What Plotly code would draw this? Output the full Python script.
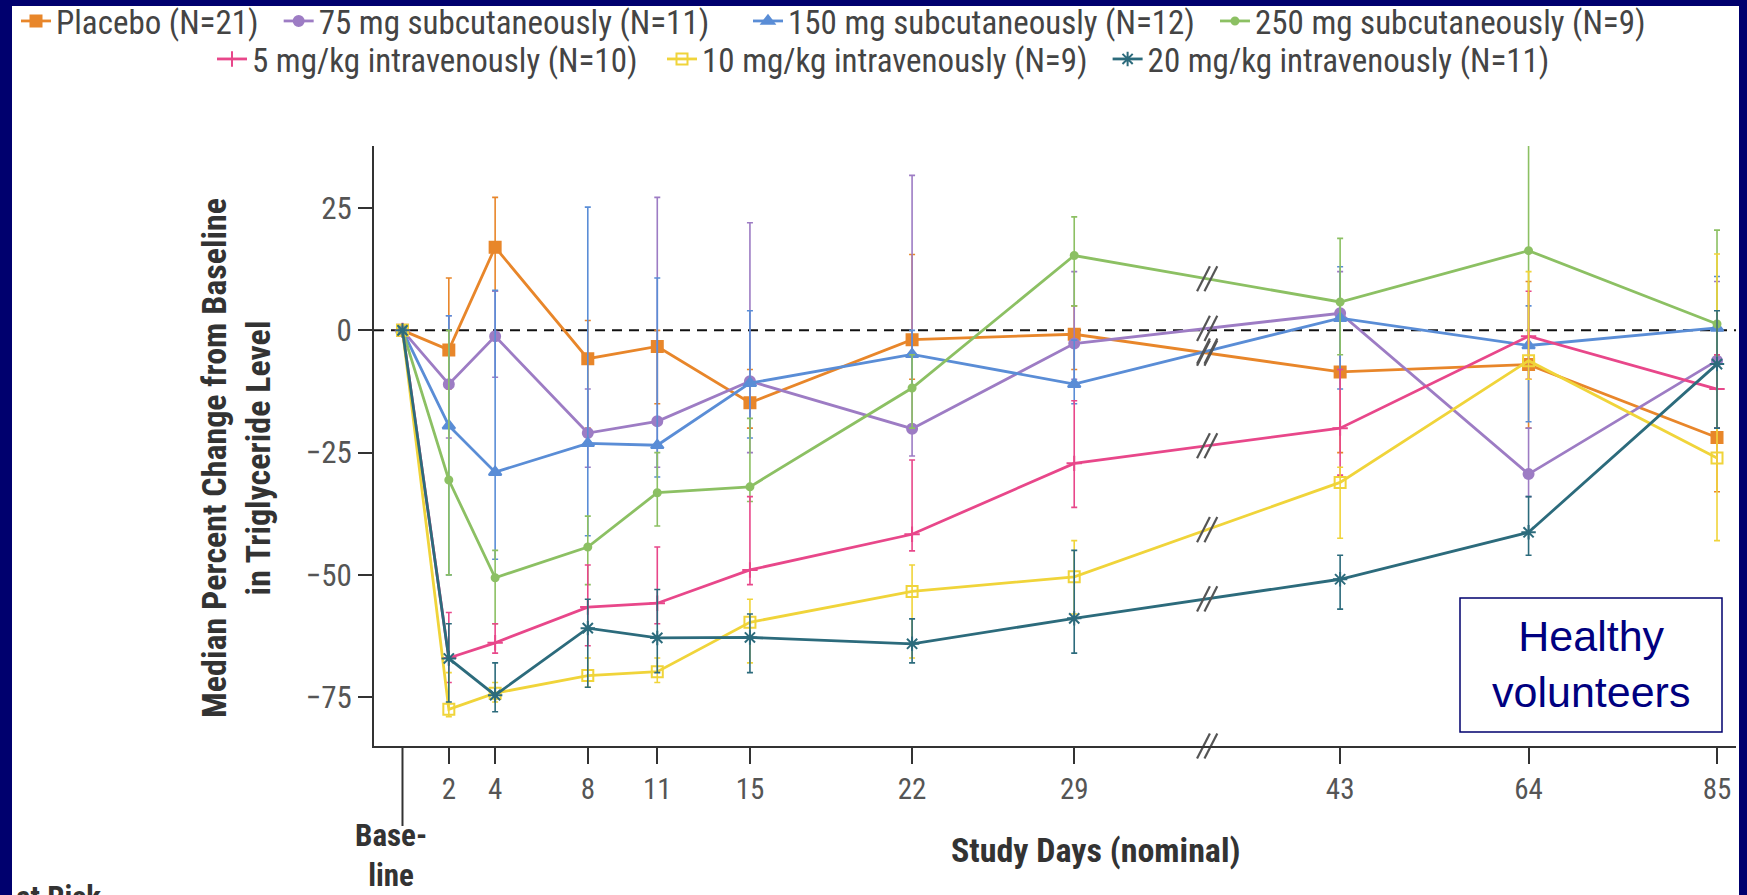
import numpy as np
import plotly.graph_objects as go

# ---------------- data ----------------
days = [0, 2, 4, 8, 11, 15, 22, 29, 43, 64, 85]
tick_days = [2, 4, 8, 11, 15, 22, 29, 43, 64, 85]
tick_labels = ["2", "4", "8", "11", "15", "22", "29", "43", "64", "85"]

names = [
    "Placebo (N=21)",
    "75 mg subcutaneously (N=11)",
    "150 mg subcutaneously (N=12)",
    "250 mg subcutaneously (N=9)",
    "5 mg/kg intravenously (N=10)",
    "10 mg/kg intravenously (N=9)",
    "20 mg/kg intravenously (N=11)",
]

placebo = [0, -4, 17, -5.8, -3.3, -14.8, -1.9, -0.8, -8.5, -7.0, -21.9]
placebo_hi = [None, 10.7, 27.2, 2, 0, -8, 15.5, 5, 3, 10, -5]
placebo_lo = [None, -12, 8, -20, -15, -20, -10, -8, -25, -20, -33]

sc75 = [0, -11, -1.2, -21, -18.6, -10.4, -20.1, -2.7, 3.5, -29.4, -6.2]
sc75_hi = [None, 3, 8, -12, 27.2, 22, 31.7, 12, 12, -20, 10]
sc75_lo = [None, -22, -9.6, -28, -28, -25, -25.7, -10, -8, -34, -20]

sc150 = [0, -19.5, -29, -23.1, -23.5, -10.8, -4.9, -11.0, 2.5, -3.1, 0.5]
sc150_hi = [None, 3, 8.2, 25.2, 10.7, 4, 0, -2, 13, 5, 11]
sc150_lo = [None, -50, -46.8, -42, -30, -22, -12, -15, -12, -18.7, -20]

sc250 = [0, -30.6, -50.6, -44.3, -33.2, -32, -11.8, 15.3, 5.8, 16.3, 1.3]
sc250_hi = [None, 0, -45, -38, -25, -18, -5, 23.2, 18.8, 39.3, 20.5]
sc250_lo = [None, -50, -60, -52, -40, -35, -20, 5, -5, 0, -5]

iv5 = [0, -67, -63.9, -56.6, -55.8, -49, -41.7, -27.2, -20, -1.2, -12]
iv5_hi = [None, -57.7, -60, -48, -44.3, -34, -26.5, -14.4, -8, 8, -5]
iv5_lo = [None, -72, -66, -64.5, -60, -52, -45.1, -36.2, -29.6, -10, -20]

iv10 = [0, -77.5, -74.2, -70.6, -69.8, -59.7, -53.4, -50.4, -31.1, -6.2, -26.1]
iv10_hi = [None, -70, -72, -67, -67, -55, -48, -43, -28, 12, 15.6]
iv10_lo = [None, -79, -76, -73, -72, -68, -67, -58, -42.5, -10, -43]

iv20 = [0, -67.1, -74.6, -60.9, -62.9, -62.8, -64.1, -58.9, -50.9, -41.3, -6.9]
iv20_hi = [None, -60, -68, -55, -53, -58, -59, -45, -46, -34, 4]
iv20_lo = [None, -76, -78, -73, -70, -70, -68, -66, -57, -46, -20]

series = [placebo, sc75, sc150, sc250, iv5, iv10, iv20]
highs = [placebo_hi, sc75_hi, sc150_hi, sc250_hi, iv5_hi, iv10_hi, iv20_hi]
lows = [placebo_lo, sc75_lo, sc150_lo, sc250_lo, iv5_lo, iv10_lo, iv20_lo]

colors = ["#E8862A", "#9D7CC4", "#5A8DD6", "#8CC063", "#E8478A", "#F0D43A", "#2C6B7C"]
symbols = ["square", "circle", "triangle-up", "circle", "cross-thin", "square-open", "asterisk"]
msizes = [11, 10, 11, 7, 11, 11, 12]
legend_ids = ["legend", "legend", "legend2", "legend2", "legend3", "legend4", "legend4"]

# ---------------- broken x scale ----------------
BREAK_A, BREAK_B = 29, 43
GAP = 11.48          # axis units spanned by the break
POST = 0.3874        # axis units per day after the break


def xs(d):
    d = np.asarray(d, dtype=float)
    return np.where(d <= BREAK_A, d, BREAK_A + GAP + (d - BREAK_B) * POST)


X_BREAK = BREAK_A + GAP / 2.0
SLASH_DX = 0.16
x_days = xs(days)

FONT = "Liberation Sans Narrow, Roboto Condensed, DejaVu Sans Condensed, Arial Narrow, sans-serif"
PAD = "\u00a0\u00a0"

fig = go.Figure()

for i, (nm, y, hi, lo) in enumerate(zip(names, series, highs, lows)):
    yv = np.array(y, dtype=float)
    hv = np.array([np.nan if v is None else v for v in hi], dtype=float)
    lv = np.array([np.nan if v is None else v for v in lo], dtype=float)
    fig.add_trace(go.Scatter(
        x=x_days, y=yv, name=nm + PAD, mode="lines+markers",
        line=dict(color=colors[i], width=2.8),
        marker=dict(symbol=symbols[i], size=msizes[i], color=colors[i],
                    line=dict(color=colors[i], width=2)),
        error_y=dict(type="data", symmetric=False, array=hv - yv, arrayminus=yv - lv,
                     color=colors[i], thickness=1.6, width=3),
        legend=legend_ids[i],
    ))

# layout geometry (pixels)
W, H = 1747, 895
L, R, T, B = 374, 11, 146, 149
x_lo = -(402.5 - L) / 23.17
x_hi = float(xs(85)) + 19 / 23.17
Y_LO, Y_HI = -85.0, 37.7
ph = H - T - B
pw = W - L - R

# break marks (double slash) on each line and on the x axis
brk_y = [float(np.interp(X_BREAK, x_days, s)) for s in series] + [Y_LO]
for dx in (-SLASH_DX, SLASH_DX):
    fig.add_trace(go.Scatter(
        x=[X_BREAK + dx] * len(brk_y), y=brk_y, mode="markers", cliponaxis=False,
        marker=dict(symbol="line-ne", size=20, angle=-18, color="#555555",
                    line=dict(color="#555555", width=2.2)),
        showlegend=False, hoverinfo="skip"))

navy = "#00006E"
shapes = [
    # frame
    dict(type="rect", xref="paper", yref="paper", x0=-L / pw - 0.01, x1=-L / pw + 12 / pw,
         y0=-B / ph - 0.01, y1=1 + T / ph + 0.01, fillcolor=navy, line_width=0, layer="below"),
    dict(type="rect", xref="paper", yref="paper", x0=1 + (R - 8) / pw, x1=1 + R / pw + 0.01,
         y0=-B / ph - 0.01, y1=1 + T / ph + 0.01, fillcolor=navy, line_width=0, layer="below"),
    dict(type="rect", xref="paper", yref="paper", x0=-L / pw - 0.01, x1=1 + R / pw + 0.01,
         y0=1 + (T - 6) / ph, y1=1 + T / ph + 0.01, fillcolor=navy, line_width=0, layer="below"),
    # zero reference line
    dict(type="line", xref="paper", yref="y", x0=0, x1=1, y0=0, y1=0,
         line=dict(color="#111111", width=2, dash="10px,7px"), layer="below"),
    # long baseline tick
    dict(type="line", xref="x", yref="paper", x0=0, x1=0, y0=0, y1=-80 / ph,
         line=dict(color="#333333", width=2)),
    # Healthy volunteers box
    dict(type="rect", xref="paper", yref="paper",
         x0=(1460 - L) / pw, x1=(1722 - L) / pw,
         y0=(H - B - 732) / ph, y1=(H - B - 598) / ph,
         line=dict(color=navy, width=1.5), fillcolor="white", layer="above"),
]

annotations = [
    dict(text="Median Percent Change from Baseline<br>in Triglyceride Level", textangle=-90,
         xref="paper", yref="paper", x=(236 - L) / pw, y=(H - B - 458) / ph,
         xanchor="center", yanchor="middle", showarrow=False,
         font=dict(family=FONT, size=34, color="#333333", weight="bold")),
    dict(text="Study Days (nominal)", xref="paper", yref="paper",
         x=(1095 - L) / pw, y=-(850 - (H - B)) / ph, xanchor="center", yanchor="middle",
         showarrow=False, font=dict(family=FONT, size=34, color="#333333", weight="bold")),
    dict(text="Base-<br>line", xref="x", yref="paper", x=-0.5, y=-(855 - (H - B)) / ph,
         xanchor="center", yanchor="middle", showarrow=False,
         font=dict(family=FONT, size=31, color="#333333", weight="bold")),
    dict(text="Healthy<br>volunteers", xref="paper", yref="paper",
         x=(1591 - L) / pw, y=(H - B - 664) / ph, xanchor="center", yanchor="middle",
         showarrow=False, font=dict(family="Liberation Sans, Arial, sans-serif", size=43, color="#000080")),
    dict(text="at Risk", xref="paper", yref="paper", x=(14 - L) / pw, y=-(897 - (H - B)) / ph,
         xanchor="left", yanchor="middle", showarrow=False,
         font=dict(family=FONT, size=31, color="#333333", weight="bold")),
]

leg_common = dict(orientation="h", xref="container", yref="container", yanchor="middle",
                  xanchor="left", font=dict(family=FONT, size=33, color="#444444"),
                  itemwidth=30, bgcolor="rgba(0,0,0,0)")
ROW1_Y, ROW2_Y = 21, 59

fig.update_layout(
    width=W, height=H,
    margin=dict(l=L, r=R, t=T, b=B, pad=0),
    paper_bgcolor="white", plot_bgcolor="white",
    shapes=shapes, annotations=annotations,
    legend=dict(leg_common, x=16 / W, y=1 - ROW1_Y / H),
    legend2=dict(leg_common, x=748 / W, y=1 - ROW1_Y / H),
    legend3=dict(leg_common, x=212 / W, y=1 - ROW2_Y / H),
    legend4=dict(leg_common, x=662 / W, y=1 - ROW2_Y / H),
    xaxis=dict(range=[x_lo, x_hi], tickvals=xs(tick_days), ticktext=tick_labels,
               showline=True, linecolor="#333333", linewidth=2, ticks="outside", ticklen=16,
               tickwidth=2, tickcolor="#333333", showgrid=False, zeroline=False,
               tickfont=dict(family=FONT, size=29, color="#555555")),
    yaxis=dict(range=[Y_LO, Y_HI], tickvals=[-75, -50, -25, 0, 25],
               ticktext=["\u221275", "\u221250", "\u221225", "0", "25"],
               showline=True, linecolor="#333333", linewidth=2, ticks="outside", ticklen=14,
               tickwidth=2, tickcolor="#333333", showgrid=False, zeroline=False,
               tickfont=dict(family=FONT, size=31, color="#555555")),
)

fig.write_html("out.html")
